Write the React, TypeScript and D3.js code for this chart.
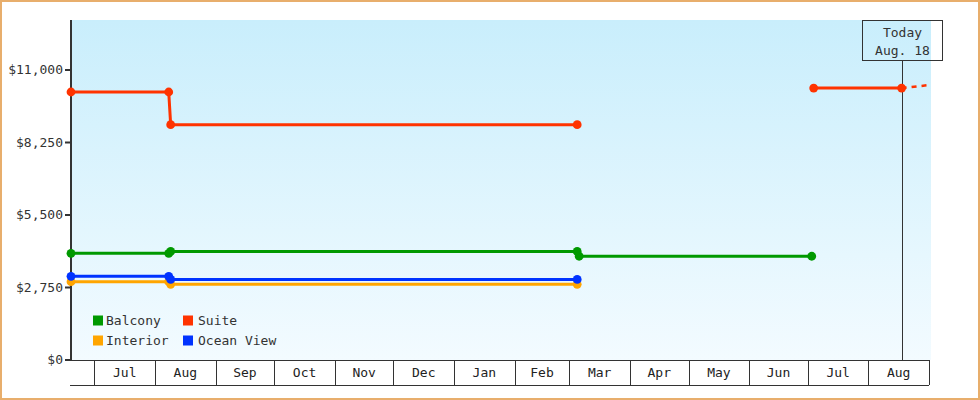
import * as d3 from "d3";
import { useRef, useEffect } from "react";

type Pt = { date: Date; value: number };

const parse = d3.timeParse("%Y-%m-%d");

// price history per cabin type (dates of price changes)
const suiteA: [string, number][] = [
  ["2014-06-19", 10165],
  ["2014-08-08", 10165],
  ["2014-08-09", 8925],
  ["2015-03-05", 8925],
];
const suiteB: [string, number][] = [
  ["2015-07-04", 10315],
  ["2015-08-18", 10315],
];
const suiteForecast: [string, number][] = [
  ["2015-08-18", 10315],
  ["2015-08-31", 10420],
];
const balcony: [string, number][] = [
  ["2014-06-19", 4045],
  ["2014-08-08", 4045],
  ["2014-08-09", 4120],
  ["2015-03-05", 4120],
  ["2015-03-06", 3935],
  ["2015-07-03", 3935],
];
const oceanView: [string, number][] = [
  ["2014-06-19", 3175],
  ["2014-08-08", 3175],
  ["2014-08-09", 3055],
  ["2015-03-05", 3055],
];
const interior: [string, number][] = [
  ["2014-06-19", 2970],
  ["2014-08-08", 2970],
  ["2014-08-09", 2870],
  ["2015-03-05", 2870],
];

const yTicks = [0, 2750, 5500, 8250, 11000];
const legendItems = [
  { name: "Balcony", color: "#009900" },
  { name: "Suite", color: "#ff3300" },
  { name: "Interior", color: "#ffa500" },
  { name: "Ocean View", color: "#0033ff" },
];
const todayDate = "2015-08-18";
const todayLabel = ["Today", "Aug. 18"];

const toPts = (rows: [string, number][]): Pt[] =>
  rows.map(([d, v]) => ({ date: parse(d) as Date, value: v }));

export default function App() {
  const svgRef = useRef<SVGSVGElement>(null);
  const W = 980;
  const H = 400;
  const left = 71, right = 929, top = 20, bottom = 360;

  useEffect(() => {
    const svg = d3.select(svgRef.current);
    svg.selectAll("*").remove();
    const font = "'DejaVu Sans Mono', monospace";

    const x = d3.scaleTime()
      .domain([parse("2014-06-19") as Date, parse("2015-09-01") as Date])
      .range([left, right]);
    const y = d3.scaleLinear().domain([0, 11000]).range([bottom, 70]);

    // background gradient
    const defs = svg.append("defs");
    const grad = defs.append("linearGradient")
      .attr("id", "bg").attr("x1", 0).attr("y1", 0).attr("x2", 0).attr("y2", 1);
    grad.append("stop").attr("offset", "0%").attr("stop-color", "#c9eefc");
    grad.append("stop").attr("offset", "100%").attr("stop-color", "#f3fbff");

    svg.append("rect")
      .attr("x", 1).attr("y", 1).attr("width", W - 2).attr("height", H - 2)
      .attr("fill", "#fff").attr("stroke", "#e8ae6c").attr("stroke-width", 2);

    svg.append("rect")
      .attr("x", left).attr("y", top).attr("width", 931 - left).attr("height", bottom - top)
      .attr("fill", "url(#bg)");

    // y axis
    svg.append("line")
      .attr("x1", left).attr("x2", left).attr("y1", top).attr("y2", bottom + 1)
      .attr("stroke", "#333").attr("stroke-width", 2);
    const fmt = d3.format("$,");
    const yt = svg.append("g");
    yTicks.forEach(t => {
      yt.append("line")
        .attr("x1", left - 6).attr("x2", left).attr("y1", y(t)).attr("y2", y(t))
        .attr("stroke", "#333").attr("stroke-width", 2);
      yt.append("text")
        .attr("x", 63).attr("y", y(t)).attr("dy", "0.33em")
        .attr("text-anchor", "end")
        .attr("font-family", font).attr("font-size", 13).attr("fill", "#333")
        .text(fmt(t));
    });

    // x axis: month cells
    const xa = svg.append("g");
    xa.append("line").attr("x1", left - 1).attr("x2", right).attr("y1", bottom + 0.5).attr("y2", bottom + 0.5)
      .attr("stroke", "#333");
    xa.append("line").attr("x1", left - 1).attr("x2", right).attr("y1", 385.5).attr("y2", 385.5)
      .attr("stroke", "#333");
    const [d0, d1] = x.domain();
    const months = d3.timeMonth.range(d3.timeMonth.ceil(d0), d1);
    const monthFmt = d3.timeFormat("%b");
    months.forEach(m => {
      const xm = Math.round(x(m)) + 0.5;
      xa.append("line").attr("x1", xm).attr("x2", xm).attr("y1", bottom).attr("y2", 385)
        .attr("stroke", "#333");
      const next = d3.timeMonth.offset(m, 1);
      xa.append("text")
        .attr("x", (x(m) + x(next)) / 2).attr("y", 377)
        .attr("text-anchor", "middle")
        .attr("font-family", font).attr("font-size", 13).attr("fill", "#222")
        .text(monthFmt(m));
    });
    xa.append("line").attr("x1", right + 0.5).attr("x2", right + 0.5).attr("y1", bottom).attr("y2", 385)
      .attr("stroke", "#333");

    // today marker
    const tx = Math.round(x(parse(todayDate) as Date)) + 0.5;
    svg.append("line").attr("x1", tx).attr("x2", tx).attr("y1", 60.5).attr("y2", bottom)
      .attr("stroke", "#333");
    svg.append("rect")
      .attr("x", tx - 40).attr("y", 20.5).attr("width", 80).attr("height", 40)
      .attr("fill", "none").attr("stroke", "#333");
    todayLabel.forEach((t, i) => {
      svg.append("text")
        .attr("x", tx).attr("y", 37 + i * 18)
        .attr("text-anchor", "middle")
        .attr("font-family", font).attr("font-size", 13).attr("fill", "#333")
        .text(t);
    });

    // series
    const line = d3.line<Pt>().x(d => x(d.date)).y(d => y(d.value));
    const series = [
      { pts: toPts(interior), color: "#ffa500" },
      { pts: toPts(oceanView), color: "#0033ff" },
      { pts: toPts(balcony), color: "#009900" },
      { pts: toPts(suiteA), color: "#ff3300" },
      { pts: toPts(suiteB), color: "#ff3300" },
    ];

    svg.append("path")
      .datum(toPts(suiteForecast))
      .attr("fill", "none").attr("stroke", "#ff3300").attr("stroke-width", 2.5)
      .attr("stroke-dasharray", "5,5")
      .attr("d", line);

    series.forEach(s => {
      svg.append("path")
        .datum(s.pts)
        .attr("fill", "none").attr("stroke", s.color).attr("stroke-width", 3)
        .attr("d", line);
      svg.append("g").selectAll("circle")
        .data(s.pts)
        .join("circle")
        .attr("cx", d => x(d.date)).attr("cy", d => y(d.value)).attr("r", 4.4)
        .attr("fill", s.color);
    });

    // legend
    const lg = svg.append("g");
    legendItems.forEach((it, i) => {
      const col = i % 2, row = Math.floor(i / 2);
      const lx = 93 + col * 90, ly = 315.5 + row * 20;
      lg.append("rect").attr("x", lx).attr("y", ly).attr("width", 10).attr("height", 10)
        .attr("fill", it.color);
      lg.append("text").attr("x", lx + 13 + col * 2).attr("y", ly + 9.5)
        .attr("font-family", font).attr("font-size", 13).attr("fill", "#333")
        .text(it.name);
    });
  }, []);

  return (
    <svg ref={svgRef} width={W} height={H}
      style={{ position: "absolute", left: 0, top: 0, display: "block" }} />
  );
}
